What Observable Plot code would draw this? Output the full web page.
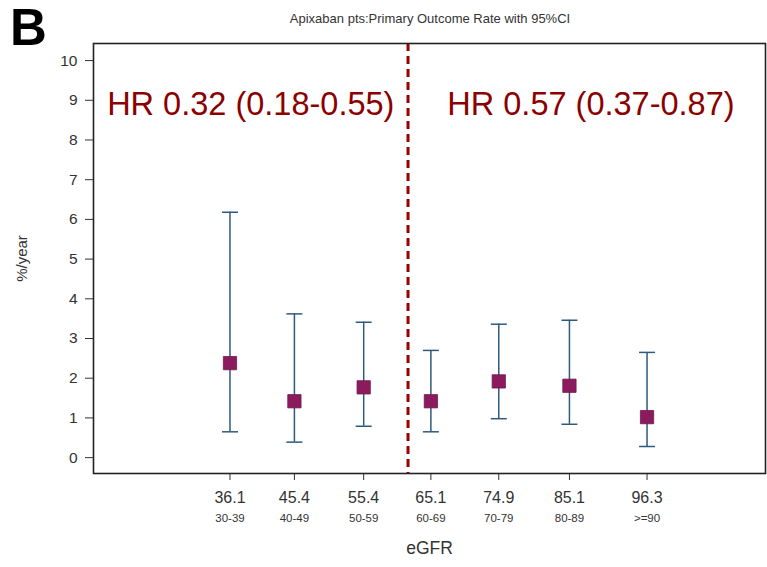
<!DOCTYPE html>
<html>
<head>
<meta charset="utf-8">
<script src="https://cdn.jsdelivr.net/npm/d3@7"></script>
<script src="https://cdn.jsdelivr.net/npm/@observablehq/plot@0.6"></script>
<style>
  html, body { margin: 0; padding: 0; background: #fff; }
  #wrap { position: relative; width: 767px; height: 567px; }
  #panel { position: absolute; left: 10px; top: -2px; font: bold 51px "Liberation Sans", Arial, sans-serif; color: #000; }
  #title { position: absolute; left: 0; width: 860px; top: 11px; text-align: center; font: 13px "Liberation Sans", Arial, sans-serif; color: #333; }
</style>
</head>
<body>
<div id="wrap">
  <div id="chart"></div>
  <div id="panel">B</div>
  <div id="title">Apixaban pts:Primary Outcome Rate with 95%CI</div>
</div>
<script>
// eGFR groups: mean eGFR of each band and its range label
const eGFRMean = [36.1, 45.4, 55.4, 65.1, 74.9, 85.1, 96.3];
const eGFRBand = ["30-39", "40-49", "50-59", "60-69", "70-79", "80-89", ">=90"];
// Primary outcome rate (%/year) with 95% CI
const rate  = [2.38, 1.42, 1.77, 1.42, 1.92, 1.81, 1.02];
const lower = [0.65, 0.39, 0.79, 0.65, 0.98, 0.84, 0.28];
const upper = [6.18, 3.62, 3.41, 2.70, 3.36, 3.46, 2.65];
const yTicks = [0, 1, 2, 3, 4, 5, 6, 7, 8, 9, 10];
// split between lower and higher eGFR and the hazard ratio on each side
const split = 61.8;
const hrText = ["HR 0.32 (0.18-0.55)", "HR 0.57 (0.37-0.87)"];

const rows = eGFRMean.map((m, i) => ({mean: m, band: eGFRBand[i], rate: rate[i], lo: lower[i], hi: upper[i]}));

const xDomain = [16.4, 113.4];
const hr = [
  {x: (xDomain[0] + split) / 2, text: hrText[0]},
  {x: (split + xDomain[1]) / 2 + 0.6, text: hrText[1]}
];

// a horizontal cap for the error bars
const cap = { draw(ctx) { ctx.moveTo(-8, 0); ctx.lineTo(8, 0); } };

const barColor = "#2e5a7c";
const font = "'Liberation Sans', Arial, sans-serif";

const chart = Plot.plot({
  width: 767,
  height: 567,
  marginLeft: 93,
  marginRight: 2,
  marginTop: 43,
  marginBottom: 94,
  style: {fontFamily: font, color: "#333", background: "#fff"},
  x: {domain: xDomain},
  y: {domain: [-0.4, 10.43]},
  marks: [
    Plot.axisY({ticks: yTicks, tickSize: 8, tickPadding: 8, fontSize: 15.5, stroke: "#333", label: null}),
    Plot.axisX({ticks: eGFRMean, tickFormat: d => d.toFixed(1), tickSize: 7, tickPadding: 11, fontSize: 16, stroke: "#333", label: null}),
    // axis titles
    Plot.text(["%/year"], {frameAnchor: "left", textAnchor: "middle", rotate: -90, dx: -71, fontSize: 15, fill: "#333"}),
    Plot.text(["eGFR"], {frameAnchor: "bottom", dy: 80, fontSize: 17.5, fill: "#333"}),
    Plot.text(rows, {x: "mean", text: "band", frameAnchor: "bottom", dy: 48, fontSize: 11.5, fill: "#333"}),
    Plot.ruleX(rows, {x: "mean", y1: "lo", y2: "hi", stroke: barColor, strokeWidth: 1.5}),
    Plot.dot(rows, {x: "mean", y: "lo", symbol: cap, stroke: barColor, strokeWidth: 1.5}),
    Plot.dot(rows, {x: "mean", y: "hi", symbol: cap, stroke: barColor, strokeWidth: 1.5}),
    Plot.dot(rows, {x: "mean", y: "rate", symbol: "square", r: 7.5, fill: "#8c1b5e", stroke: "#6e1a4e", strokeWidth: 0.8}),
    Plot.ruleX([split], {stroke: "#9a0000", strokeWidth: 3, strokeDasharray: "8,5"}),
    Plot.text(hr, {x: "x", y: 8.9, text: "text", fill: "#8b0000", fontSize: 32.5, fontFamily: font}),
    Plot.frame({stroke: "#222", strokeWidth: 1.6})
  ]
});

document.getElementById("chart").appendChild(chart);
</script>
</body>
</html>
